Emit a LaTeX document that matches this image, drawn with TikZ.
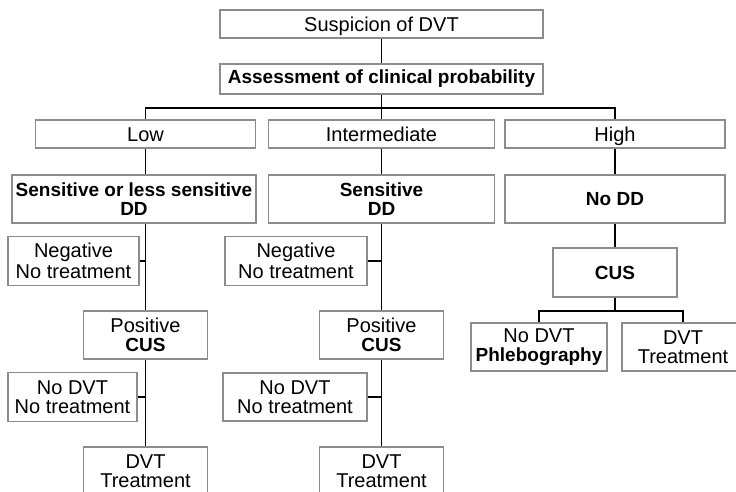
\documentclass[tikz,border=0pt]{standalone}
\usepackage{fontspec}
\setmainfont{Liberation Sans}
\definecolor{boxgray}{HTML}{8C8C8C}
\newcommand{\bftxt}[1]{{\fontsize{19}{19}\selectfont\bfseries #1}}
\tikzset{
  box/.style={draw=boxgray, line width=1.3pt, rectangle, inner sep=0pt,
    font=\fontsize{20}{19}\selectfont},
  oneline/.style={box, text height=17pt, text depth=1pt},
  twoline/.style={box, align=center},
  boldbox/.style={box, align=center, font=\fontsize{19}{19}\selectfont\bfseries},
  widebox/.style={box, align=center, font=\fontsize{20}{21}\selectfont},
  link/.style={draw=black, line width=1.8pt}
}
\begin{document}
\begin{tikzpicture}[x=1pt, y=-1pt]
\useasboundingbox (0,0) rectangle (736,492);

\node[oneline, minimum width=323pt, minimum height=28pt] (susp) at (381.5,24) {Suspicion of DVT};
\node[boldbox, minimum width=323pt, minimum height=30pt] (assess) at (381.5,79) {Assessment of clinical probability};

\node[oneline, minimum width=220pt, minimum height=28pt] (low) at (145.5,134) {Low};
\node[oneline, minimum width=226pt, minimum height=28pt] (inter) at (381.5,134) {Intermediate};
\node[oneline, minimum width=220pt, minimum height=28pt] (high) at (615,134) {High};

\node[boldbox, minimum width=244pt, minimum height=48pt] (sensless) at (134,199) {Sensitive or less sensitive\\DD};
\node[boldbox, minimum width=226pt, minimum height=48pt] (sens) at (381.5,199) {Sensitive\\DD};
\node[boldbox, minimum width=220pt, minimum height=48pt] (nodd) at (615,199) {No DD};

\node[widebox, minimum width=131pt, minimum height=49pt] (neg1) at (73.5,261) {Negative\\No treatment};
\node[twoline, minimum width=124pt, minimum height=48pt] (pos1) at (145.5,335) {Positive\\\bftxt{CUS}};
\node[twoline, minimum width=129pt, minimum height=49pt] (nodvt1) at (72.5,397) {No DVT\\No treatment};
\node[twoline, minimum width=124pt, minimum height=48pt] (dvt1) at (145.5,471) {DVT\\Treatment};

\node[widebox, minimum width=142pt, minimum height=49pt] (neg2) at (296,261) {Negative\\No treatment};
\node[twoline, minimum width=124pt, minimum height=48pt] (pos2) at (381.5,335) {Positive\\\bftxt{CUS}};
\node[twoline, minimum width=144pt, minimum height=48pt] (nodvt2) at (295,397) {No DVT\\No treatment};
\node[twoline, minimum width=124pt, minimum height=48pt] (dvt2) at (381.5,471) {DVT\\Treatment};

\node[boldbox, minimum width=124pt, minimum height=49pt] (cus) at (615,272.5) {CUS};
\node[twoline, minimum width=136pt, minimum height=48pt] (phleb) at (539,347) {No DVT\\\bftxt{Phlebography}};
\node[twoline, minimum width=122pt, minimum height=48pt] (dvt3) at (683,347) {DVT\\Treatment};

\draw[link] (susp) -- (assess);
\draw[link] (assess.south) -- ++(0,13) coordinate (split);
\draw[link] (low.north) |- (split) -| (high.north);
\draw[link] (split) -- (inter.north);

\draw[link] (low) -- (low |- sensless.north);
\draw[link] (pos1 |- sensless.south) -- (pos1);
\draw[link] (pos1) -- (dvt1);
\draw[link] (neg1.east) -- (neg1.east -| pos1);
\draw[link] (nodvt1.east) -- (nodvt1.east -| pos1);

\draw[link] (inter) -- (sens);
\draw[link] (sens) -- (pos2);
\draw[link] (pos2) -- (dvt2);
\draw[link] (neg2.east) -- (neg2.east -| pos2);
\draw[link] (nodvt2.east) -- (nodvt2.east -| pos2);

\draw[link] (high) -- (nodd);
\draw[link] (nodd) -- (cus);
\draw[link] (cus.south) -- ++(0,13) coordinate (cussplit);
\draw[link] (phleb.north) |- (cussplit) -| (dvt3.north);
\end{tikzpicture}
\end{document}
